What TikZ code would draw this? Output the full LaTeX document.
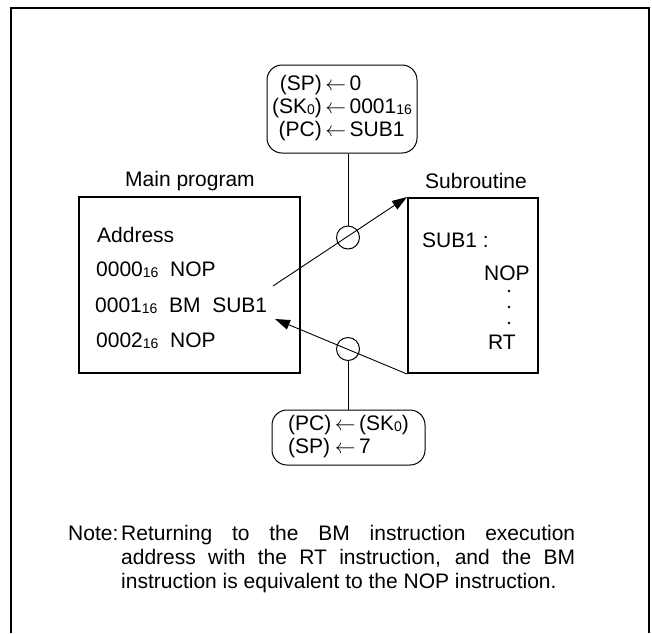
\documentclass[tikz,border=0pt]{standalone}
\usepackage{fontspec}
\setmainfont{Liberation Sans}
\usetikzlibrary{arrows.meta}
\newcommand\sbs[1]{\raisebox{-1.2pt}{\fontsize{14}{14}\selectfont #1}}
\begin{document}
\begin{tikzpicture}[x=1pt,y=-1pt,
  font=\fontsize{21}{23}\selectfont,
  prog/.style={draw, line width=2pt, inner sep=0pt},
  rbox/.style={draw, line width=1pt, rounded corners=15pt, inner sep=0pt},
  ring/.style={draw, line width=1pt, circle, inner sep=0pt, minimum size=23pt},
  txt/.style={anchor=base west, inner sep=0pt},
  lbl/.style={inner sep=0pt},
  dotmark/.style={circle, fill, inner sep=0pt, minimum size=2.8pt},
  arr/.style={line width=0.9pt, -{Triangle[length=15pt,width=10pt]}},
  thinline/.style={line width=1pt}]
\useasboundingbox (0,0) rectangle (652,633);
% outer frame
\draw[line width=2.2pt] (11,633) -- (11,8) -- (649,8) -- (649,633);
% boxes
\node[prog, minimum width=221pt, minimum height=176pt] (main) at (189.5,285) {};
\node[prog, minimum width=130pt, minimum height=175pt] (sub) at (473,285.5) {};
\node[rbox, minimum width=150pt, minimum height=88pt] (pre) at (342,109)
  {\begin{tabular}{@{}r@{\,$\leftarrow$\,}l@{}}
   (SP) & 0\\
   (SK\sbs{0}) & 0001\sbs{16}\\
   (PC) & SUB1
   \end{tabular}};
\node[rbox, minimum width=153pt, minimum height=55pt] (post) at (348.5,437.5)
  {\begin{tabular}{@{}l@{\,$\leftarrow$\,}l@{}}
   (PC) & (SK\sbs{0})\\
   (SP) & 7
   \end{tabular}};
\node[ring] (c1) at (348,237.5) {};
\node[ring] (c2) at (348,349) {};
% labels
\node[lbl] (mainlbl) at (190,181) {Main program};
\node[lbl] (sublbl) at (476,181) {Subroutine};
% main program text
\node[txt] (addr) at (97,242.5) {Address};
\node[txt] (l0) at (96,276.5) {0000\sbs{16}\ \ NOP};
\node[txt] (l1) at (95,312.5) {0001\sbs{16}\ \ BM\ \ SUB1};
\node[txt] (l2) at (96,347.5) {0002\sbs{16}\ \ NOP};
% subroutine text
\node[txt] (s0) at (422,247.5) {SUB1 :};
\node[txt] (nop) at (484,280.5) {NOP};
\node[dotmark] (d1) at (509,291) {};
\node[dotmark] (d2) at (509,307) {};
\node[dotmark] (d3) at (509,323) {};
\node[txt] (rt) at (488,349.5) {RT};
% connectors
\coordinate (a1) at (273,286);
\coordinate (a2) at (275,319);
\draw[arr] (a1) -- (sub.north west);
\draw[arr] (sub.south west) -- (a2);
\draw[thinline] (pre.south -| c1) -- (c1.north);
\draw[thinline] (c2.south) -- (c2.south |- post.north);
% note
\node[txt] (note) at (68,540) {Note:};
\node[txt] (para) at (121,540) {\parbox[t]{454pt}{\fontsize{21}{24}\selectfont\setlength\parindent{0pt}%
Returning to the BM instruction execution\linebreak
address with the RT instruction, and the BM\linebreak
instruction is equivalent to the NOP instruction.}};
\end{tikzpicture}
\end{document}
